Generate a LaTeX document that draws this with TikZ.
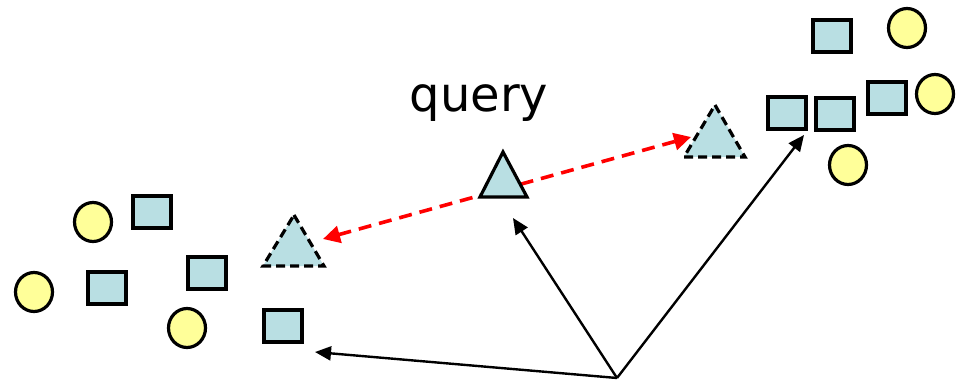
\documentclass[tikz,border=0pt]{standalone}
\usepackage{fontspec}
\setmainfont{DejaVu Sans}
\usetikzlibrary{arrows.meta,shapes.geometric}
\definecolor{sqfill}{RGB}{185,223,227}
\definecolor{dotfill}{RGB}{255,255,153}
\begin{document}
\begin{tikzpicture}[x=1pt,y=-1pt,
  sqbox/.style={draw=black, fill=sqfill, line width=3.2pt, minimum width=38pt, minimum height=32pt, inner sep=0pt},
  dot/.style={ellipse, draw=black, fill=dotfill, line width=3.2pt, minimum width=37pt, minimum height=39pt, inner sep=0pt},
  tri/.style={draw=black, fill=sqfill, line width=3.2pt, line join=miter},
  dtri/.style={tri, dash pattern=on 9pt off 5pt},
  arr/.style={-{Triangle[length=16pt,width=14pt]}, line width=2.4pt},
  redarr/.style={{Triangle[length=17pt,width=17pt]}-{Triangle[length=17pt,width=17pt]}, draw=red, line width=3.6pt, dash pattern=on 13pt off 8pt}
]
\useasboundingbox (0,0) rectangle (963,382);

% left group
\node[dot] (l1) at (93,222) {};
\node[sqbox] (l2) at (152,212) {};
\node[dot] (l3) at (34,292) {};
\node[sqbox] (l4) at (107,288) {};
\node[sqbox] (l5) at (207,273) {};
\node[dot] (l6) at (187,328) {};
\node[sqbox] (l7) at (283,326) {};

% right group
\node[sqbox] (r1) at (832,36) {};
\node[dot] (r2) at (907,28) {};
\node[sqbox] (r3) at (887,98) {};
\node[dot] (r4) at (935,94) {};
\node[sqbox] (r5) at (787,113) {};
\node[sqbox] (r6) at (835,114) {};
\node[dot] (r7) at (848,165) {};

% label
\node[anchor=base, font=\fontsize{48}{50}\selectfont, inner sep=0pt] (query) at (479,112) {query};

% dashed triangles
\draw[dtri] (294,215) -- (324,266) -- (263,266) -- cycle;
\draw[dtri] (715,105) -- (745,157) -- (684,157) -- cycle;

% red double arrow
\coordinate (ra) at (323,239);
\coordinate (rb) at (691,137);
\draw[redarr] (ra) -- (rb);

% query triangle
\draw[tri] (503,152) -- (527,197) -- (480,197) -- cycle;

% black arrows
\coordinate (o) at (617,378);
\coordinate (tl) at (315,352);
\coordinate (tm) at (513,218);
\coordinate (tr) at (804,135);
\draw[arr] (o) -- (tl);
\draw[arr] (o) -- (tm);
\draw[arr] (o) -- (tr);
\end{tikzpicture}
\end{document}
